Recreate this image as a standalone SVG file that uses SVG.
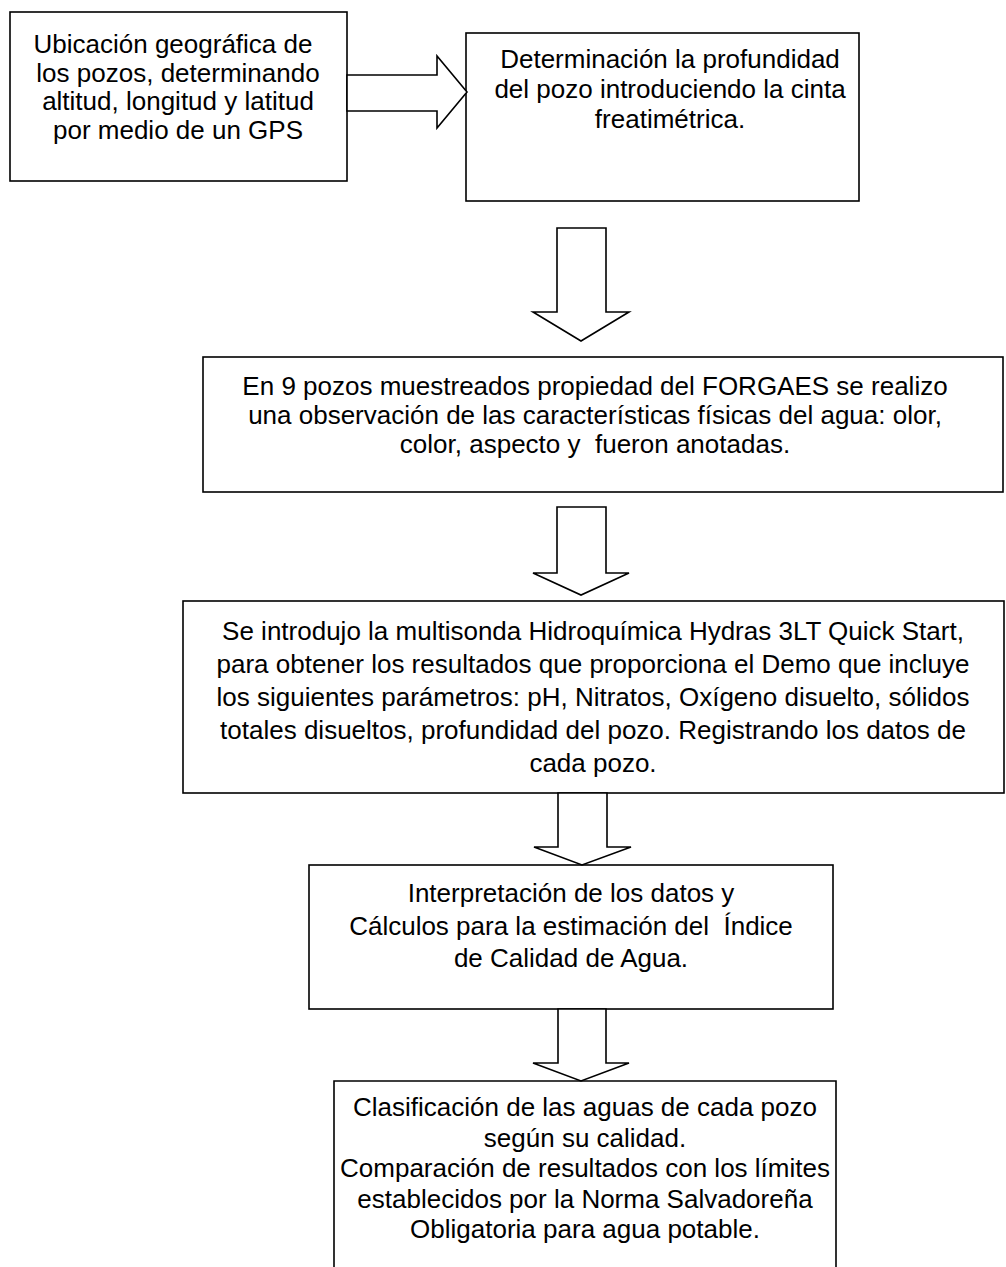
<svg xmlns="http://www.w3.org/2000/svg" width="1006" height="1267" viewBox="0 0 1006 1267">
<style>
.box{fill:#fff;stroke:#000;stroke-width:1.6}
.arr{fill:#fff;stroke:#000;stroke-width:1.6;stroke-linejoin:miter}
text{font-family:"Liberation Sans",Arial,sans-serif;font-size:26px;fill:#000;text-anchor:middle}
</style>
<rect width="1006" height="1267" fill="#fff"/>
<g id="n1">
<rect class="box" x="10" y="12" width="337" height="169"/>
<text x="173" y="53">Ubicación geográfica de</text>
<text x="178" y="82">los pozos, determinando</text>
<text x="178" y="110">altitud, longitud y latitud</text>
<text x="178" y="139">por medio de un GPS</text>
</g>
<g id="n2">
<rect class="box" x="466" y="33" width="393" height="168"/>
<text x="670" y="68">Determinación la profundidad</text>
<text x="670" y="98">del pozo introduciendo la cinta</text>
<text x="670" y="128">freatimétrica.</text>
</g>
<g id="n3">
<rect class="box" x="203" y="357" width="800" height="135"/>
<text x="595" y="395">En 9 pozos muestreados propiedad del FORGAES se realizo</text>
<text x="595" y="424">una observación de las características físicas del agua: olor,</text>
<text x="595" y="453" xml:space="preserve">color, aspecto y  fueron anotadas.</text>
</g>
<g id="n4">
<rect class="box" x="183" y="601" width="821" height="192"/>
<text x="593" y="640">Se introdujo la multisonda Hidroquímica Hydras 3LT Quick Start,</text>
<text x="593" y="673">para obtener los resultados que proporciona el Demo que incluye</text>
<text x="593" y="706">los siguientes parámetros: pH, Nitratos, Oxígeno disuelto, sólidos</text>
<text x="593" y="739">totales disueltos, profundidad del pozo. Registrando los datos de</text>
<text x="593" y="772">cada pozo.</text>
</g>
<g id="n5">
<rect class="box" x="309" y="865" width="524" height="144"/>
<text x="571" y="902">Interpretación de los datos y</text>
<text x="571" y="935" xml:space="preserve">Cálculos para la estimación del  Índice</text>
<text x="571" y="967">de Calidad de Agua.</text>
</g>
<g id="n6">
<path class="box" d="M334 1280 V1081 H836 V1280"/>
<text x="585" y="1116">Clasificación de las aguas de cada pozo</text>
<text x="585" y="1147">según su calidad.</text>
<text x="585" y="1177">Comparación de resultados con los límites</text>
<text x="585" y="1208">establecidos por la Norma Salvadoreña</text>
<text x="585" y="1238">Obligatoria para agua potable.</text>
</g>
<g id="connectors">
<polygon class="arr" points="347,75 437,75 437,56 467,92 437,128 437,111 347,111"/>
<polygon class="arr" points="557,228 606,228 606,312 629,312 581,341 533,312 557,312"/>
<polygon class="arr" points="557,507 606,507 606,573 629,573 581,595 533,573 557,573"/>
<polygon class="arr" points="558,793 607,793 607,847 631,847 582,865 534,847 558,847"/>
<polygon class="arr" points="558,1009 606,1009 606,1063 629,1063 581,1081 533,1063 558,1063"/>
</g>
</svg>
